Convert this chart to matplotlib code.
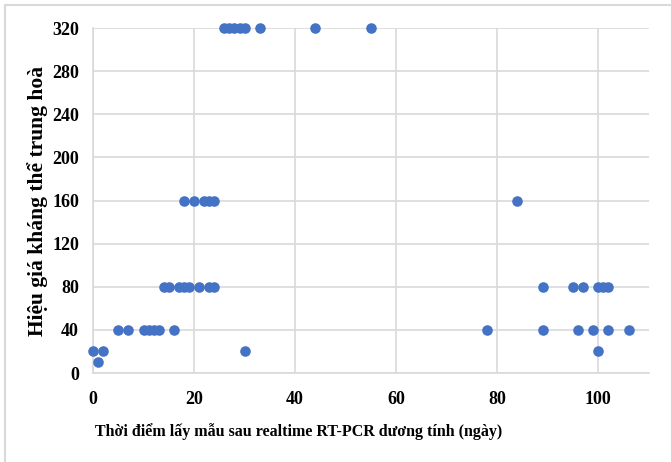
import numpy as np
import matplotlib.pyplot as plt
from matplotlib.patches import Rectangle

# số liệu: ngày lấy mẫu và hiệu giá kháng thể
ngay = [0, 1, 2, 30, 100,
        5, 7, 10, 11, 12, 13, 16, 78, 89, 96, 99, 102, 106,
        14, 15, 17, 18, 19, 21, 23, 24, 89, 95, 97, 100, 101, 102,
        18, 20, 22, 23, 24, 84,
        26, 27, 28, 29, 30, 33, 44, 55]
hieu_gia = [20, 10, 20, 20, 20,
            40, 40, 40, 40, 40, 40, 40, 40, 40, 40, 40, 40, 40,
            80, 80, 80, 80, 80, 80, 80, 80, 80, 80, 80, 80, 80, 80,
            160, 160, 160, 160, 160, 160,
            320, 320, 320, 320, 320, 320, 320, 320]

x_ticks = [0, 20, 40, 60, 80, 100]
y_ticks = [0, 40, 80, 120, 160, 200, 240, 280, 320]

plt.rcParams['font.family'] = ['Liberation Serif', 'DejaVu Serif']

fig = plt.figure(figsize=(6.71, 4.62), dpi=100)
ax = fig.add_axes([0.1386, 0.1926, 0.8284, 0.7464])

ax.scatter(ngay, hieu_gia, s=58, color='#4472C4', zorder=3, clip_on=False,
           linewidths=0)

ax.set_xlim(0, 110)
ax.set_ylim(0, 320)
ax.set_xticks(x_ticks)
ax.set_yticks(y_ticks)
ax.grid(True, color='#D9D9D9', linewidth=1.2)
ax.set_axisbelow(True)
for side in ['top', 'right']:
    ax.spines[side].set_visible(False)
for side in ['left', 'bottom']:
    ax.spines[side].set_color('#D9D9D9')
    ax.spines[side].set_linewidth(1.2)
ax.tick_params(length=0, labelsize=13)
ax.tick_params(axis='x', pad=13)
ax.tick_params(axis='y', pad=10)
for lb in ax.get_xticklabels() + ax.get_yticklabels():
    lb.set_fontweight('bold')

ax.set_xlabel('Thời điểm lấy mẫu sau realtime RT-PCR dương tính (ngày)',
              fontsize=11.5, fontweight='bold')
ax.xaxis.set_label_coords(0.37, -0.171)
ax.xaxis.label.set_va('center')
ax.set_ylabel('Hiệu giá kháng thể trung hoà', fontsize=15.5,
              fontweight='bold')
ax.yaxis.set_label_coords(-0.099, 0.5)
ax.yaxis.label.set_va('center')

# khung viền nhạt quanh hình
fig.patches.append(Rectangle((5 / 671, -0.1), 1.2, 1.1 - 5 / 462,
                             transform=fig.transFigure, fill=False,
                             edgecolor='#D9D9D9', linewidth=1.5))

fig.savefig('out.png', dpi=100)
